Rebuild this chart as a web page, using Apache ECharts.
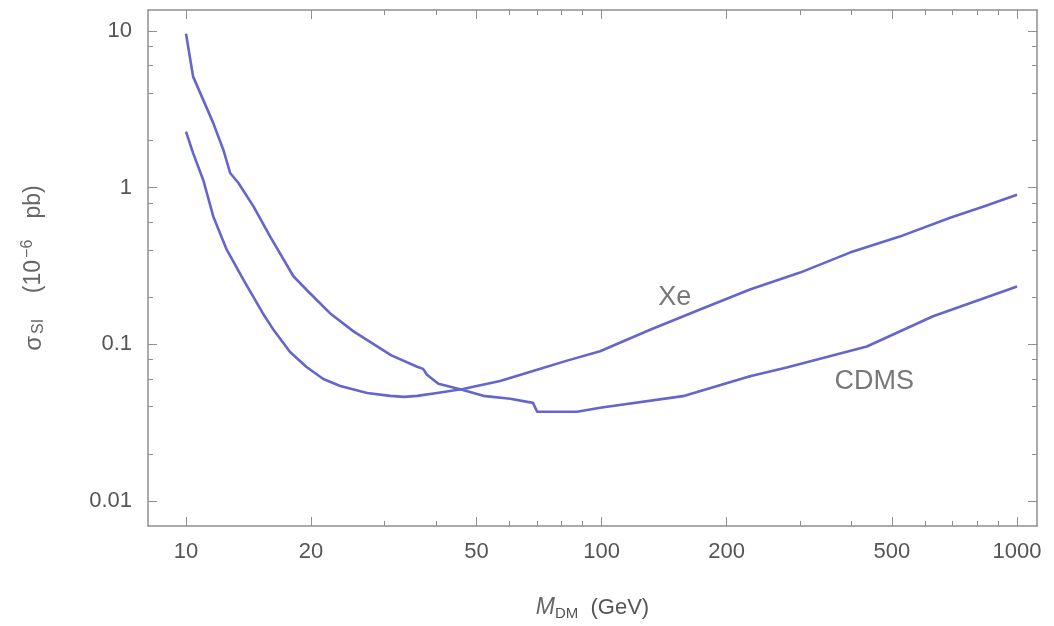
<!DOCTYPE html>
<html>
<head>
<meta charset="utf-8">
<script src="https://cdn.jsdelivr.net/npm/echarts@6/dist/echarts.min.js"></script>
<style>
html,body{margin:0;padding:0;background:#fff;}
#chart{width:1054px;height:626px;}
</style>
</head>
<body>
<div id="chart"></div>
<script>
// ---- data ----
const xeMass  = [10, 10.4, 11.0, 11.63, 12.53, 13.74, 15.3, 16.2, 17.8, 19.5, 21.4, 23.5, 27.3, 31.0, 33.5, 36.0, 40.2, 46.4, 57.0, 68.4, 83.0, 99.2, 130.9, 172.6, 227.6, 300.5, 396, 522, 690, 828, 1000];
const xeSigma = [2.28, 1.66, 1.12, 0.655, 0.402, 0.259, 0.158, 0.125, 0.0893, 0.0717, 0.0601, 0.0542, 0.0489, 0.0469, 0.0462, 0.0469, 0.0489, 0.0519, 0.0583, 0.0676, 0.0790, 0.0904, 0.124, 0.1667, 0.2236, 0.287, 0.385, 0.487, 0.643, 0.755, 0.90];

const cdmsMass  = [10, 10.4, 11.0, 11.63, 12.3, 12.77, 13.37, 14.53, 15.93, 18.13, 19.5, 22.2, 25.3, 31.2, 36.0, 37.2, 38.0, 40.5, 46.4, 51.9, 60.3, 68.4, 70.0, 87.3, 99.2, 157, 227.6, 279, 435, 628, 1000];
const cdmsSigma = [9.6, 5.11, 3.63, 2.58, 1.74, 1.24, 1.07, 0.759, 0.489, 0.272, 0.223, 0.158, 0.121, 0.085, 0.072, 0.0697, 0.064, 0.056, 0.0512, 0.0469, 0.0449, 0.0423, 0.0371, 0.0371, 0.0394, 0.0467, 0.0626, 0.0711, 0.0969, 0.151, 0.234];

const curveNames = ['Xe', 'CDMS'];
const labelMass  = [150, 453];
const labelSigma = [0.198, 0.0583];

const xMajorTicks = [10, 20, 50, 100, 200, 500, 1000];
const xMinorTicks = [30, 40, 60, 70, 80, 90, 300, 400, 600, 700, 800, 900];
const yMajorTicks = [0.01, 0.1, 1, 10];
const yMinorTicks = [0.02, 0.04, 0.06, 0.08, 0.2, 0.4, 0.6, 0.8, 2, 4, 6, 8];
const yTickLabels = ['0.01', '0.1', '1', '10'];

const xRange = [8.1, 1117];
const yRange = [0.00693, 13.6];

// ---- chart ----
const zip = (a, b) => a.map((v, i) => [v, b[i]]);
const frameColor = '#8f8f8f';
const textColor = '#555';
const fontFam = '"Liberation Sans", Arial, sans-serif';
const lineColor = '#6565cc';

function xAxisDef(pos, ticks, major, withLabel) {
  return {
    type: 'log', logBase: 10, position: pos, min: xRange[0], max: xRange[1],
    splitLine: {show: false},
    axisLine: {show: major, lineStyle: {color: frameColor, width: 1.5}},
    axisTick: {show: true, inside: true, length: major ? 9 : 5, customValues: ticks,
               lineStyle: {color: frameColor, width: 1}},
    axisLabel: withLabel ? {show: true, customValues: ticks, color: textColor, fontSize: 22,
               fontFamily: fontFam, margin: 15, formatter: v => String(Math.round(v))} : {show: false},
    name: withLabel ? '{i|M}{sub|DM}{n|  (GeV)}' : '',
    nameLocation: 'middle', nameGap: 68,
    nameTextStyle: {
      color: textColor, fontFamily: fontFam,
      rich: {
        i: {fontSize: 23, fontStyle: 'italic', color: '#666', fontFamily: fontFam},
        sub: {fontSize: 15, color: '#555', fontFamily: fontFam, padding: [12, 0, 0, 0]},
        n: {fontSize: 22, color: '#555', fontFamily: fontFam}
      }
    }
  };
}
function yAxisDef(pos, ticks, major, withLabel) {
  return {
    type: 'log', logBase: 10, position: pos, min: yRange[0], max: yRange[1],
    splitLine: {show: false},
    axisLine: {show: major, lineStyle: {color: frameColor, width: 1.5}},
    axisTick: {show: true, inside: true, length: major ? 9 : 5, customValues: ticks,
               lineStyle: {color: frameColor, width: 1}},
    axisLabel: withLabel ? {show: true, customValues: ticks, color: textColor, fontSize: 22,
               fontFamily: fontFam, margin: 16,
               formatter: v => { for (let k = 0; k < yMajorTicks.length; k++) { if (Math.abs(v - yMajorTicks[k]) / yMajorTicks[k] < 1e-6) return yTickLabels[k]; } return ''; }} : {show: false},
    name: withLabel ? '{s|σ}{sub|SI}{n|    (10}{sup|−6}{n|   pb)}' : '',
    nameLocation: 'middle', nameGap: 100, nameRotate: 90,
    nameTextStyle: {
      color: textColor, fontFamily: fontFam,
      rich: {
        s: {fontSize: 24, color: '#666', fontFamily: fontFam},
        sub: {fontSize: 16, color: '#666', fontFamily: fontFam, padding: [10, 0, 0, 2]},
        sup: {fontSize: 16, color: '#666', fontFamily: fontFam, padding: [0, 2, 12, 2]},
        n: {fontSize: 23, color: '#666', fontFamily: fontFam}
      }
    }
  };
}

const chart = echarts.init(document.getElementById('chart'), null, {renderer: 'canvas'});
chart.setOption({
  backgroundColor: '#fff',
  animation: false,
  grid: {left: 148, right: 17, top: 10, bottom: 100, containLabel: false, outerBoundsMode: 'none'},
  xAxis: [
    xAxisDef('bottom', xMajorTicks, true, true),
    xAxisDef('bottom', xMinorTicks, false, false),
    xAxisDef('top', xMajorTicks, true, false),
    xAxisDef('top', xMinorTicks, false, false)
  ],
  yAxis: [
    yAxisDef('left', yMajorTicks, true, true),
    yAxisDef('left', yMinorTicks, false, false),
    yAxisDef('right', yMajorTicks, true, false),
    yAxisDef('right', yMinorTicks, false, false)
  ],
  series: [
    {name: 'Xe', type: 'line', xAxisIndex: 0, yAxisIndex: 0, data: zip(xeMass, xeSigma),
     showSymbol: false, smooth: false, lineStyle: {color: lineColor, width: 2.6, join: 'round'}, silent: true},
    {name: 'CDMS', type: 'line', xAxisIndex: 0, yAxisIndex: 0, data: zip(cdmsMass, cdmsSigma),
     showSymbol: false, smooth: false, lineStyle: {color: lineColor, width: 2.6, join: 'round'}, silent: true},
    {name: 'labels', type: 'scatter', xAxisIndex: 0, yAxisIndex: 0, symbolSize: 0, silent: true,
     data: curveNames.map((n, i) => ({name: n, value: [labelMass[i], labelSigma[i]]})),
     label: {show: true, position: 'inside', formatter: p => p.name, color: textColor,
             fontSize: 27, fontFamily: fontFam}}
  ]
});
</script>
</body>
</html>
